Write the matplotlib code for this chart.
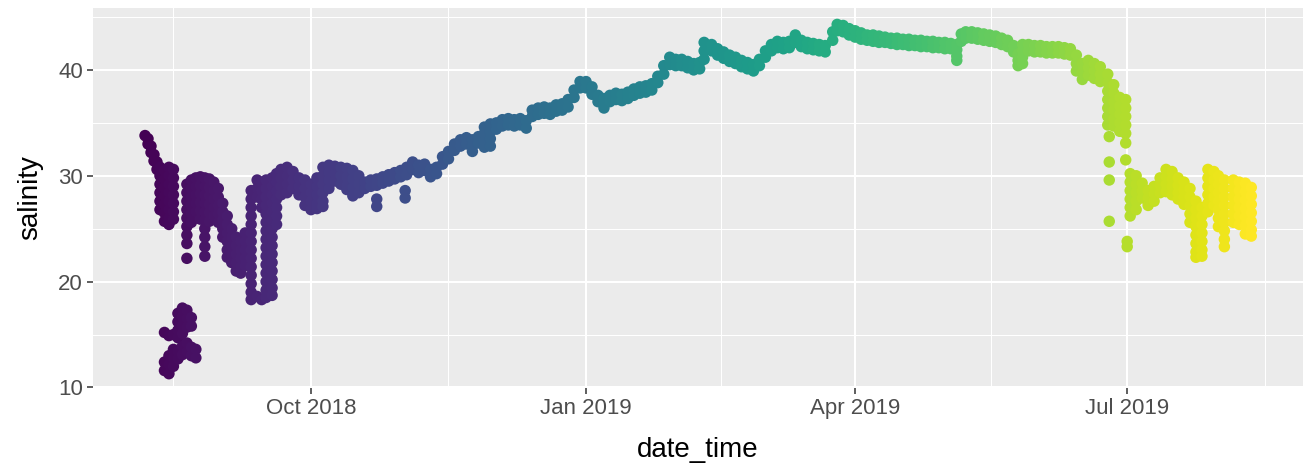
import numpy as np
import matplotlib.pyplot as plt
import matplotlib.dates as mdates

plt.rcParams["font.family"] = ["Liberation Sans", "DejaVu Sans"]

start = np.datetime64("2018-08-01")

# days after 1 Aug 2018 and the salinity readings logged around each day
day = [
    5.5, 6.5, 7.5, 8.5, 9.5, 10.5, 12.0, 13.5, 15.0, 16.5, 18.0,
    19.5, 21.0, 22.5, 24.0, 25.5, 27.0, 28.5, 30.0, 31.5, 33.0, 34.5, 36.0, 37.5, 39.0,
    41.0, 43.0, 44.5, 46.0, 48.0, 49.5,
    51, 53, 55, 57, 59, 61, 63, 65, 67, 69,
    71, 73, 75, 77, 79, 81, 83, 85, 87, 89,
    91, 92.5, 93, 95, 97, 99, 101, 103, 105, 107,
    109, 111, 113, 115, 117, 119, 121, 123, 125, 127,
    129, 131, 133, 135, 137, 139, 141, 143, 145, 147,
    149, 151, 153, 155, 157, 159, 161, 163, 165, 167,
    169, 171, 173, 175, 177, 179, 181, 183, 185, 187,
    189, 191, 192.5, 195, 197, 199, 201, 203, 205, 207,
    209, 211, 213, 215, 217, 219, 221, 223, 225, 227,
    229, 231, 233, 235.5, 237, 239, 241, 243, 245, 247,
    249, 251, 253, 255, 257, 259, 261, 263, 265, 267,
    269, 271, 273, 275, 277, 278.5, 280, 282, 284, 286,
    288, 290, 292, 294, 296, 297.5, 299, 301, 303, 305,
    307, 309, 311, 313, 315, 317, 319, 321, 323, 325,
    327.5, 328.0, 329.5, 331.5, 333.5, 334.0,
    335, 337, 339, 341, 343, 345, 347, 349, 351, 353,
    355, 357, 359, 361, 363, 364.5, 366.5, 369.5, 371.5, 373.5, 375.5,
]

salinity = [
    # Aug 2018
    [33.8], [33.5, 33.0], [32.8, 32.2], [32.0, 31.4], [31.3, 30.6],
    [30.8, 30.0, 29.2, 28.4, 27.6, 26.8],
    [30.5, 29.7, 28.9, 28.1, 27.3, 26.5, 25.7, 15.2, 12.4, 11.6],
    [30.8, 30.0, 29.2, 28.4, 27.6, 26.8, 26.0, 25.4, 14.9, 13.0, 12.2, 11.3],
    [30.6, 29.8, 29.0, 28.2, 27.4, 26.6, 25.9, 15.0, 13.6, 12.8, 12.0],
    [17.0, 16.2, 15.4, 14.7, 13.4, 12.7],
    [17.5, 16.7, 15.9, 15.1, 13.9, 13.1],
    [29.2, 28.4, 27.6, 26.8, 26.0, 25.2, 24.4, 23.6, 22.2, 17.3, 16.5, 15.7, 14.2, 13.4],
    [29.6, 28.8, 28.0, 27.2, 26.4, 25.6, 16.6, 15.8, 13.8, 13.0],
    [29.8, 29.0, 28.2, 27.4, 26.6, 13.6, 12.8],
    [29.9, 29.1, 28.3, 27.5, 26.7, 25.9],
    [29.8, 29.0, 28.2, 27.4, 26.6, 25.8, 25.0, 24.2, 23.3, 22.4],
    [29.7, 28.9, 28.1, 27.3, 26.5, 25.7],
    [29.4, 28.6, 27.8, 27.0, 26.2],
    [28.8, 28.0, 27.2, 26.4, 25.6],
    [27.4, 26.6, 25.8, 25.0, 24.2],
    [26.2, 25.4, 24.6, 23.8, 23.0, 22.3],
    [25.0, 24.2, 23.4, 22.6, 21.8],
    [24.2, 23.4, 22.6, 21.8, 21.0],
    [23.8, 23.0, 22.2, 21.4, 20.8],
    [24.6, 23.8, 23.0, 22.2, 21.5],
    # Sep 2018
    [28.6, 27.8, 27.0, 26.2, 25.4, 24.6, 23.8, 23.0, 22.2, 21.4, 20.6, 19.8, 19.0, 18.3],
    [29.6, 28.8, 28.0, 18.6],
    [29.4, 28.6, 27.8, 27.0, 18.3],
    [29.6, 28.8, 28.0, 27.2, 26.4, 25.6, 24.8, 24.0, 23.2, 22.4, 21.6, 20.8, 20.0, 19.2, 18.5],
    [29.8, 29.0, 28.2, 27.4, 26.6, 25.8, 25.0, 24.2, 23.4, 22.6, 21.8, 21.0, 20.2, 19.4, 18.7],
    [30.2, 29.4, 28.6, 27.8, 27.0, 26.2, 25.4],
    [30.6, 29.8, 29.0, 28.2], [30.8, 30.0, 29.2, 28.4], [30.4, 29.6, 28.8], [29.8, 29.0, 28.2],
    [29.6, 28.8, 28.0, 27.2], [29.2, 28.4, 27.6, 26.8], [29.8, 29.0, 28.2, 27.4, 26.9],
    [30.8, 30.0, 29.2, 28.4, 27.6, 27.1], [31.0, 30.3, 29.6, 28.8], [30.9, 30.2, 29.5],
    # Oct 2018
    [30.8, 30.0, 29.2], [30.7, 29.9, 29.1, 28.7], [30.5, 29.7, 28.9, 28.1], [30.0, 29.2, 28.4],
    [29.4, 28.8], [29.6, 29.0], [29.7, 29.1, 27.8, 27.1], [29.9, 29.3], [30.1, 29.5], [30.3, 29.7],
    [30.5, 29.9], [28.6, 27.9], [30.8, 30.1], [31.3, 30.6], [31.0, 30.3], [31.1, 30.5],
    [30.6, 29.9], [30.8, 30.2], [31.8, 31.1], [32.3, 31.6],
    # Nov 2018
    [33.0, 32.4], [33.4, 32.8], [33.6, 33.0], [33.4, 32.8, 32.3], [33.7, 33.1],
    [34.6, 34.0, 33.3, 32.7], [34.9, 34.2, 33.5, 32.8], [35.0, 34.4], [35.3, 34.7], [35.4, 34.8],
    [35.3, 34.7], [35.4, 34.8], [35.2, 34.5], [36.2, 35.6], [36.4, 35.8],
    [36.5, 35.9], [36.4, 35.8], [36.7, 36.1], [36.8, 36.2], [37.2, 36.5],
    # Dec 2018 - Jan 2019
    [38.1, 37.4], [38.9, 38.3], [38.9, 38.3], [38.4, 37.7], [37.6, 37.0],
    [37.3, 36.7, 36.4], [37.6, 37.0], [37.8, 37.2], [37.7, 37.1], [37.9, 37.3],
    [38.2, 37.6], [38.4, 37.8], [38.5, 37.9], [38.7, 38.1], [39.4, 38.8],
    [40.4, 39.6], [41.2, 40.5], [41.0, 40.4], [41.0, 40.4], [40.8, 40.2],
    # Feb - Mar 2019
    [40.6, 40.0], [40.7, 40.1], [42.6, 41.8, 41.0], [42.4, 41.8], [42.0, 41.4],
    [41.7, 41.1], [41.4, 40.8], [41.2, 40.6], [40.9, 40.3], [40.7, 40.1],
    [40.5, 39.9], [41.0, 40.4], [41.8, 41.2], [42.4, 41.8], [42.7, 42.1],
    [42.6, 42.0], [42.7, 42.1], [43.3, 42.6], [42.8, 42.2], [42.6, 42.0],
    [42.5, 41.9], [42.4, 41.8], [42.3, 41.7], [43.6, 42.8], [44.3, 43.7],
    [44.2, 43.6], [43.9, 43.3], [43.7, 43.1], [43.5, 42.9], [43.3, 42.8],
    # Apr - May 2019
    [43.3, 42.7], [43.2, 42.6], [43.1, 42.6], [43.0, 42.5], [43.0, 42.4],
    [42.9, 42.4], [42.9, 42.3], [42.8, 42.3], [42.8, 42.2], [42.7, 42.2],
    [42.7, 42.1], [42.6, 42.1], [42.6, 42.0], [42.5, 42.0], [42.4, 41.9, 41.3, 40.9],
    [43.4, 42.7], [43.6, 43.0], [43.6, 43.0], [43.5, 42.9], [43.4, 42.8],
    [43.3, 42.7], [43.2, 42.6], [43.0, 42.4], [42.8, 42.2], [42.3, 41.7],
    [41.5, 40.9, 40.4], [42.4, 41.8, 41.2, 40.6], [42.4, 41.8], [42.3, 41.7], [42.3, 41.7],
    # Jun 2019
    [42.2, 41.6], [42.2, 41.6], [42.2, 41.6], [42.1, 41.5], [42.0, 41.4],
    [41.4, 40.6, 39.9], [40.6, 39.8, 39.1], [40.9, 40.2, 39.5], [40.6, 39.9, 39.2], [40.3, 39.6, 38.9],
    [39.6, 38.8, 38.0, 37.2, 36.4, 35.6, 34.8],
    [33.7, 31.3, 29.6, 25.7],
    [38.6, 37.8, 37.0, 36.2, 35.4, 34.7],
    [37.4, 36.6, 35.8, 35.0, 34.2],
    [37.2, 36.4, 35.6, 34.8, 34.0, 33.1, 31.5],
    [23.8, 23.3],
    # Jul - Aug 2019
    [30.2, 29.4, 28.6, 27.8, 27.0, 26.2], [30.0, 29.2, 28.4, 27.6, 26.8], [29.3, 28.6, 27.9],
    [28.6, 27.9, 27.2], [29.0, 28.3, 27.6], [29.8, 29.1, 28.4], [30.6, 29.9, 29.2, 28.5],
    [30.4, 29.7, 29.0, 28.2], [29.8, 29.1, 28.4, 27.8], [29.4, 28.7, 28.0, 27.3],
    [28.8, 28.0, 27.2, 26.4, 25.6],
    [27.6, 26.8, 26.0, 25.2, 24.4, 23.6, 22.8, 22.3],
    [27.0, 26.2, 25.4, 24.6, 23.8, 23.0, 22.4],
    [30.6, 29.8, 29.0, 28.2, 27.4, 26.6],
    [30.4, 29.6, 28.8, 28.0, 27.2],
    [30.0, 29.2, 28.4, 27.6, 26.8, 26.0, 25.2],
    [29.6, 28.8, 28.0, 27.2, 26.4, 25.6, 24.8, 24.0, 23.3],
    [29.6, 28.8, 28.0, 27.2, 26.4, 25.6],
    [29.4, 28.6, 27.8, 27.0, 26.2, 25.4],
    [29.3, 28.5, 27.7, 26.9, 26.1, 25.3, 24.5],
    [28.9, 28.1, 27.3, 26.5, 25.7, 24.9, 24.3],
]

assert len(day) == len(salinity), (len(day), len(salinity))

t0 = mdates.date2num(start)
x = np.concatenate([[t0 + d] * len(v) for d, v in zip(day, salinity)])
y = np.concatenate(salinity)

quarters = mdates.date2num(np.array(["2018-07-01", "2018-10-01", "2019-01-01",
                                     "2019-04-01", "2019-07-01", "2019-10-01"],
                                    dtype="datetime64[D]"))

fig = plt.figure(figsize=(13.1, 4.69), dpi=100)
ax = fig.add_axes([93 / 1310, 1 - 388 / 469, 1210 / 1310, 380 / 469])
ax.set_facecolor("#EBEBEB")

ax.scatter(x, y, c=x, cmap="viridis", norm=plt.Normalize(x.min(), x.max()),
           s=68, linewidths=0, zorder=3)

ax.set_xlim(t0 - 11.9, t0 + 392.8)
ax.set_ylim(9.95, 45.85)

ax.xaxis.set_major_locator(mdates.MonthLocator(bymonth=[1, 4, 7, 10]))
ax.xaxis.set_major_formatter(mdates.DateFormatter("%b %Y"))
ax.set_xticks((quarters[:-1] + quarters[1:]) / 2, minor=True)
ax.set_yticks([10, 20, 30, 40])
ax.set_yticks([15, 25, 35, 45], minor=True)

ax.grid(which="major", color="white", linewidth=1.5)
ax.grid(which="minor", color="white", linewidth=0.75)
ax.set_axisbelow(True)
for s in ax.spines.values():
    s.set_visible(False)

ax.tick_params(which="major", direction="out", length=4.3, width=1.1, color="#333333",
               labelcolor="#4D4D4D", labelsize=16, pad=3)
ax.tick_params(which="minor", length=0)

ax.set_xlabel("date_time", fontsize=20, color="black", va="top")
ax.xaxis.set_label_coords(0.5, -0.128)
ax.set_ylabel("salinity", fontsize=20, color="black")
ax.yaxis.set_label_coords(-0.041, 0.5)

fig.savefig("out.png", dpi=100, facecolor="white")
